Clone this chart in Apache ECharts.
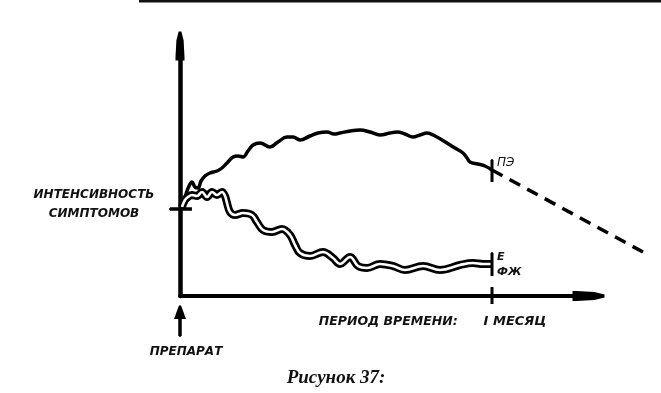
<!DOCTYPE html>
<html>
<head>
<meta charset="utf-8">
<script src="https://cdn.jsdelivr.net/npm/echarts@6/dist/echarts.min.js"></script>
<style>
html,body{margin:0;padding:0;background:#fff;}
#c{width:661px;height:393px;}
</style>
</head>
<body>
<div id="c"></div>
<script>
// x: days since the drug was started; y: symptom intensity (arbitrary units)
const placeboX = [0.19,0.58,0.87,1.15,1.44,1.73,2.02,2.40,2.88,3.56,4.04,4.52,5.10,5.58,6.06,6.54,7.02,7.69,8.65,9.42,10.29,10.87,11.54,12.50,13.27,14.13,14.81,15.38,16.35,17.31,18.27,19.23,20.19,20.87,21.63,22.40,23.08,23.75,24.52,25.67,26.44,27.21,27.60,27.88,28.65,29.33,30.00];
const placeboY = [35.2,40.8,44.0,45.6,43.6,43.2,46.0,48.0,49.2,50.0,51.2,53.2,55.6,56.0,55.6,58.0,60.4,61.2,59.6,61.6,63.6,63.6,62.4,64.0,65.2,65.6,64.8,65.2,66.0,66.4,65.6,64.4,65.2,65.6,64.8,63.6,64.4,65.2,64.0,61.2,59.2,57.2,55.2,53.6,52.8,52.0,50.4];
const extrapX = [30.00, 44.52];
const extrapY = [50.4, 17.6];
const drugX = [0.19,0.48,0.77,1.15,1.63,2.12,2.60,3.08,3.56,4.04,4.33,4.52,4.81,5.29,6.06,6.92,7.40,7.98,8.85,9.81,10.58,11.06,11.54,12.50,13.75,14.71,15.38,16.35,17.12,17.98,19.23,20.48,21.63,23.37,25.00,26.92,28.17,29.13,30.00];
const drugY = [35.6,38.4,39.6,40.4,40.0,41.6,39.6,41.6,40.4,41.6,40.0,37.2,33.6,32.4,33.2,32.4,29.6,26.4,25.6,26.8,24.4,20.4,17.2,16.0,17.6,15.2,12.8,15.6,12.0,11.2,12.8,12.0,10.4,12.0,10.4,12.4,13.2,12.8,12.8];
const baselineLevel = 34.8;
const monthDay = 30;
const yLabel = 'ИНТЕНСИВНОСТЬ\nСИМПТОМОВ';
const xName = 'ПЕРИОД ВРЕМЕНИ:';
const xTickLabels = {30: 'I МЕСЯЦ'};
const placeboLabel = 'ПЭ';
const drugLabel = 'Е\nФЖ';
const startLabel = 'ПРЕПАРАТ';
const figureTitle = 'Рисунок 37:';

const zip = (a, b) => a.map((v, i) => [v, b[i]]);
const FONT = 'DejaVu Sans';
const txt = {fontFamily: FONT, fontStyle: 'italic', fontWeight: 'bold', color: '#111'};
const BULLET = 'path://M3.5,0 L6.5,0 L9,10 L10,28 L10,32 L0,32 L0,28 L1,10 Z';
const HEAD = 'path://M5,0 L6,1 L10,14 L0,14 L4,1 Z';
const dot = {symbol: 'circle', symbolSize: 2};

// px per day 10.4, px per intensity unit 2.5 (both grids share these scales)
const chart = echarts.init(document.getElementById('c'), null, {renderer: 'canvas'});
chart.setOption({
  animation: false,
  backgroundColor: '#fff',
  grid: [
    {left: 180, top: 46, width: 408.5, height: 250},
    {left: 0, top: 0, width: 661, height: 393}
  ],
  xAxis: [{
    gridIndex: 0, type: 'value', min: 0, max: 408.5 / 10.4, interval: 30,
    name: xName, nameLocation: 'middle', nameGap: 19, nameMoveOverlap: false,
    nameTextStyle: Object.assign({fontSize: 12.5, padding: [0, 0, 0, 8], verticalAlign: 'top'}, txt),
    axisLine: {show: true, symbol: ['none', BULLET], symbolSize: [10, 33], lineStyle: {color: '#000', width: 4}},
    axisTick: {show: false},
    splitLine: {show: false},
    axisLabel: Object.assign({fontSize: 13, margin: 19, padding: [0, 0, 0, 46], formatter: v => xTickLabels[v] || ''}, txt)
  }, {
    gridIndex: 1, type: 'value', min: -180 / 10.4, max: 481 / 10.4, show: false
  }],
  yAxis: [{
    gridIndex: 0, type: 'value', min: 0, max: 100,
    axisLine: {show: true, symbol: ['none', BULLET], symbolSize: [9, 32], lineStyle: {color: '#000', width: 4.5}},
    axisTick: {show: false}, axisLabel: {show: false}, splitLine: {show: false}
  }, {
    gridIndex: 1, type: 'value', min: -97 / 2.5, max: 296 / 2.5, show: false
  }],
  graphic: [
    {type: 'rect', shape: {x: 139, y: 0, width: 522, height: 2.5}, style: {fill: '#111'}, silent: true},
    {type: 'text', x: 336, y: 378, style: {text: figureTitle, font: 'italic bold 19px "Liberation Serif"', fill: '#111', textAlign: 'center', textVerticalAlign: 'middle'}}
  ],
  series: [
    {type: 'line', xAxisIndex: 1, yAxisIndex: 1, data: zip(placeboX, placeboY), smooth: 0.4, symbol: 'none', silent: true,
     lineStyle: {color: '#000', width: 3.5}},
    {type: 'line', xAxisIndex: 1, yAxisIndex: 1, data: zip(extrapX, extrapY), symbol: 'none', silent: true,
     lineStyle: {color: '#000', width: 3.5, type: [12, 8]}},
    {type: 'line', xAxisIndex: 1, yAxisIndex: 1, data: zip(drugX, drugY), smooth: 0.4, symbol: 'none', silent: true,
     lineStyle: {color: '#000', width: 8}},
    {type: 'line', xAxisIndex: 1, yAxisIndex: 1, data: zip(drugX, drugY), smooth: 0.4, symbol: 'none', silent: true,
     lineStyle: {color: '#fff', width: 2.6}},
    // baseline tick on the intensity axis
    {type: 'line', xAxisIndex: 1, yAxisIndex: 1, symbol: 'none', showSymbol: true, silent: true,
     lineStyle: {color: '#000', width: 3.5}, itemStyle: {color: '#000'},
     data: [Object.assign({value: [-0.96, baselineLevel], label: Object.assign({show: true, formatter: yLabel, position: 'left', distance: 75, align: 'center', offset: [0, -4.5], fontSize: 12, lineHeight: 19}, txt)}, dot),
            [1.15, baselineLevel]]},
    // one-month tick on the time axis
    {type: 'line', xAxisIndex: 1, yAxisIndex: 1, symbol: 'none', silent: true, lineStyle: {color: '#000', width: 3},
     data: [[monthDay, 3.6], [monthDay, -3.2]]},
    // ПЭ marker
    {type: 'line', xAxisIndex: 1, yAxisIndex: 1, symbol: 'none', showSymbol: true, silent: true,
     lineStyle: {color: '#000', width: 3}, itemStyle: {color: '#000'},
     data: [Object.assign({value: [monthDay, 54.4], label: Object.assign({show: true, formatter: placeboLabel, position: 'right', distance: 4, offset: [0, 3], fontSize: 12}, txt, {fontWeight: 'normal'})}, dot),
            [monthDay, 45.6]]},
    // Е / ФЖ marker
    {type: 'line', xAxisIndex: 1, yAxisIndex: 1, symbol: 'none', showSymbol: true, silent: true,
     lineStyle: {color: '#000', width: 3}, itemStyle: {color: '#000'},
     data: [Object.assign({value: [monthDay, 17.2], label: Object.assign({show: true, formatter: drugLabel, position: 'right', distance: 4, offset: [0, 12], fontSize: 11, lineHeight: 15, align: 'left'}, txt)}, dot),
            [monthDay, 8.0]]},
    // drug start arrow
    {type: 'line', xAxisIndex: 1, yAxisIndex: 1, symbol: 'none', showSymbol: true, silent: true,
     lineStyle: {color: '#000', width: 3.5}, itemStyle: {color: '#000'},
     data: [Object.assign({value: [0, -16], label: Object.assign({show: true, formatter: startLabel, position: 'bottom', distance: 9, offset: [6, 0], fontSize: 12}, txt)}, dot),
            {value: [0, -6.4], symbol: HEAD, symbolSize: [12, 14]}]}
  ]
});
</script>
</body>
</html>
